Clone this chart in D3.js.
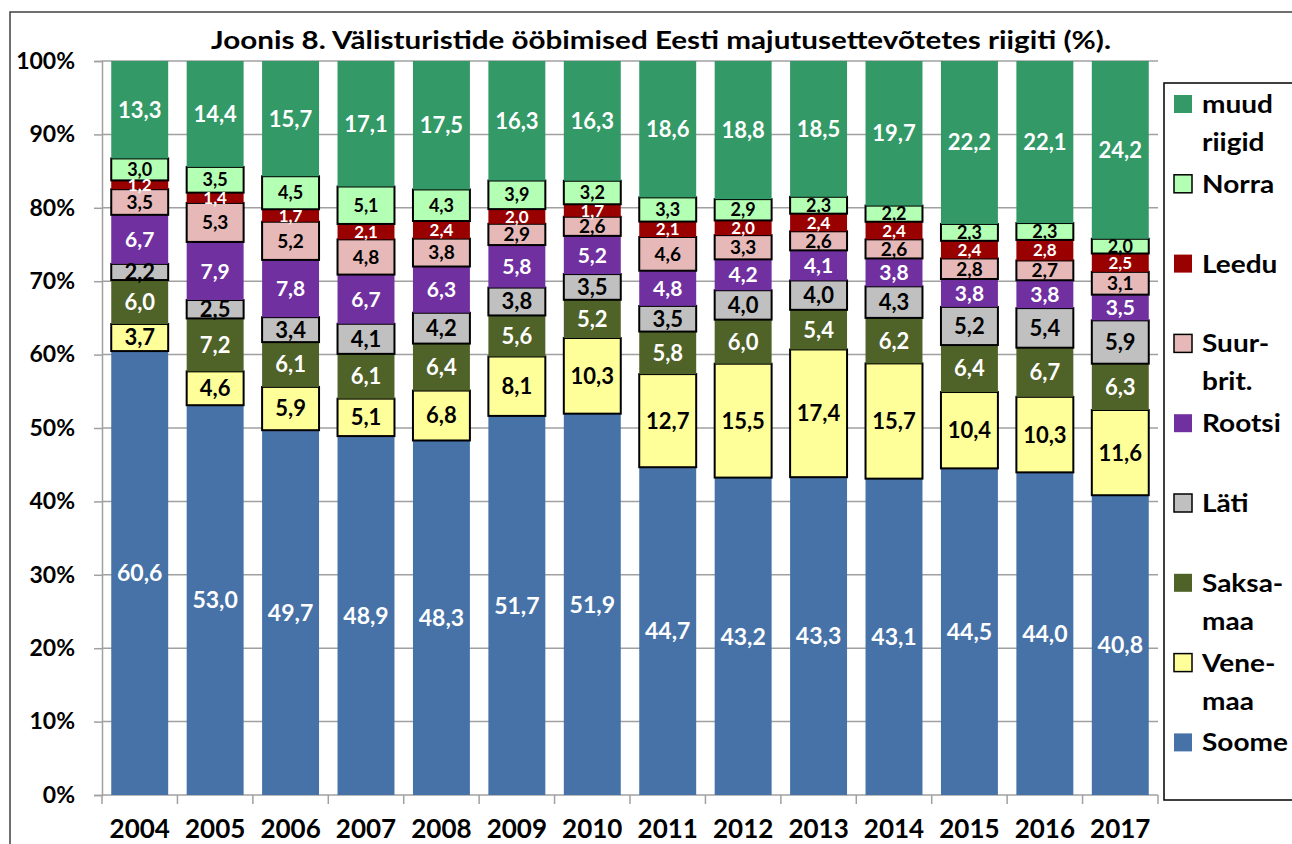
<!DOCTYPE html>
<html>
<head>
<meta charset="utf-8">
<script src="https://d3js.org/d3.v7.min.js"></script>
<style>
  * { margin: 0; padding: 0; }
  body { background: #fff; }
  text { font-family: Lato, "Open Sans", sans-serif; font-weight: bold; }
</style>
</head>
<body>
<div id="chart"></div>
<script>
// data, bottom series first
const years = ["2004","2005","2006","2007","2008","2009","2010","2011","2012","2013","2014","2015","2016","2017"];
const series = ["Soome","Venemaa","Saksamaa","Läti","Rootsi","Suurbrit","Leedu","Norra","muud"];
const soome    = [60.6,53.0,49.7,48.9,48.3,51.7,51.9,44.7,43.2,43.3,43.1,44.5,44.0,40.8];
const venemaa  = [3.7,4.6,5.9,5.1,6.8,8.1,10.3,12.7,15.5,17.4,15.7,10.4,10.3,11.6];
const saksamaa = [6.0,7.2,6.1,6.1,6.4,5.6,5.2,5.8,6.0,5.4,6.2,6.4,6.7,6.3];
const lati     = [2.2,2.5,3.4,4.1,4.2,3.8,3.5,3.5,4.0,4.0,4.3,5.2,5.4,5.9];
const rootsi   = [6.7,7.9,7.8,6.7,6.3,5.8,5.2,4.8,4.2,4.1,3.8,3.8,3.8,3.5];
const suurbrit = [3.5,5.3,5.2,4.8,3.8,2.9,2.6,4.6,3.3,2.6,2.6,2.8,2.7,3.1];
const leedu    = [1.2,1.4,1.7,2.1,2.4,2.0,1.7,2.1,2.0,2.4,2.4,2.4,2.8,2.5];
const norra    = [3.0,3.5,4.5,5.1,4.3,3.9,3.2,3.3,2.9,2.3,2.2,2.3,2.3,2.0];
const muud     = [13.3,14.4,15.7,17.1,17.5,16.3,16.3,18.6,18.8,18.5,19.7,22.2,22.1,24.2];
const yTicks = [0,0.1,0.2,0.3,0.4,0.5,0.6,0.7,0.8,0.9,1];

const values = {Soome: soome, Venemaa: venemaa, Saksamaa: saksamaa, "Läti": lati, Rootsi: rootsi,
                Suurbrit: suurbrit, Leedu: leedu, Norra: norra, muud: muud};

const style = {
  Soome:    {fill: "#4672A8", border: false, label: "#fff", size: 23, legend: ["Soome"]},
  Venemaa:  {fill: "#FFFF99", border: true,  label: "#000", size: 22, legend: ["Vene-","maa"]},
  Saksamaa: {fill: "#4F6228", border: false, label: "#fff", size: 22, legend: ["Saksa-","maa"]},
  "Läti":   {fill: "#C0C0C0", border: true,  label: "#000", size: 22, legend: ["Läti"]},
  Rootsi:   {fill: "#7030A0", border: false, label: "#fff", size: 21, legend: ["Rootsi"]},
  Suurbrit: {fill: "#E6B9B8", border: true,  label: "#000", size: 19, legend: ["Suur-","brit."]},
  Leedu:    {fill: "#990000", border: false, label: "#fff", size: 17, legend: ["Leedu"]},
  Norra:    {fill: "#B3FFB3", border: true,  label: "#000", size: 18, legend: ["Norra"]},
  muud:     {fill: "#339966", border: false, label: "#fff", size: 22, legend: ["muud","riigid"]}
};

const rows = years.map((y, i) => {
  const r = {year: y};
  series.forEach(s => r[s] = values[s][i]);
  return r;
});

const W = 1292, H = 844;
const margin = {top: 61, left: 102, right: 134, bottom: 49};

const svg = d3.select("#chart").append("svg")
  .attr("width", W).attr("height", H);

// outer chart border
svg.append("rect")
  .attr("x", 10).attr("y", 12).attr("width", 1400).attr("height", 1000)
  .attr("fill", "none").attr("stroke", "#404040").attr("stroke-width", 1.5);

svg.append("text")
  .attr("x", 661).attr("y", 49)
  .attr("text-anchor", "middle")
  .attr("textLength", 900).attr("lengthAdjust", "spacingAndGlyphs")
  .style("font-size", "25px")
  .text("Joonis 8. Välisturistide ööbimised Eesti majutusettevõtetes riigiti (%).");

const x = d3.scaleBand()
  .domain(years)
  .range([margin.left, W - margin.right])
  .paddingInner(0.245).paddingOuter(0.1225);

const y = d3.scaleLinear()
  .domain([0, 1])
  .range([H - margin.bottom, margin.top]);

// gridlines
svg.append("g")
  .selectAll("line")
  .data(yTicks.slice(1))
  .join("line")
  .attr("x1", margin.left).attr("x2", W - margin.right)
  .attr("y1", d => y(d)).attr("y2", d => y(d))
  .attr("stroke", "#A0A0A0").attr("stroke-width", 1.5);

// y axis
const gy = svg.append("g")
  .attr("transform", `translate(${margin.left},0)`)
  .call(d3.axisLeft(y).tickValues(yTicks).tickFormat(d3.format(".0%")).tickSize(8).tickPadding(19));
gy.selectAll("path, line").attr("stroke", "#A0A0A0").attr("stroke-width", 1.5);
gy.selectAll("text").style("font-size", "23px").attr("fill", "#000")
  .style("font-family", "Lato, sans-serif");

// x axis with ticks between categories
const x0 = y(0);
const gx = svg.append("g");
gx.append("line")
  .attr("x1", margin.left).attr("x2", W - margin.right)
  .attr("y1", x0).attr("y2", x0)
  .attr("stroke", "#A0A0A0").attr("stroke-width", 1.5);
const bounds = d3.range(years.length + 1).map(i => margin.left + i * x.step());
gx.selectAll("line.tk")
  .data(bounds)
  .join("line").attr("class", "tk")
  .attr("x1", d => d).attr("x2", d => d)
  .attr("y1", x0).attr("y2", x0 + 9)
  .attr("stroke", "#A0A0A0").attr("stroke-width", 1.5);
gx.selectAll("text")
  .data(years)
  .join("text")
  .attr("x", d => x(d) + x.bandwidth() / 2)
  .attr("y", 838)
  .attr("text-anchor", "middle")
  .style("font-size", "26px")
  .text(d => d);

// stacked bars
const stacked = d3.stack().keys(series).offset(d3.stackOffsetExpand)(rows);

const layers = svg.append("g")
  .selectAll("g")
  .data(stacked)
  .join("g");

layers.selectAll("rect")
  .data(d => d.map(p => ({key: d.key, p})))
  .join("rect")
  .attr("x", d => x(d.p.data.year))
  .attr("width", x.bandwidth())
  .attr("y", d => y(d.p[1]))
  .attr("height", d => y(d.p[0]) - y(d.p[1]))
  .attr("fill", d => style[d.key].fill)
  .attr("stroke", d => style[d.key].border ? "#000" : "none")
  .attr("stroke-width", 2);

const fmt = v => v.toFixed(1).replace(".", ",");

svg.append("g")
  .selectAll("g")
  .data(stacked)
  .join("g")
  .selectAll("text")
  .data(d => d.map(p => ({key: d.key, p})))
  .join("text")
  .attr("x", d => x(d.p.data.year) + x.bandwidth() / 2)
  .attr("y", d => (y(d.p[0]) + y(d.p[1])) / 2)
  .attr("dy", "0.36em")
  .attr("text-anchor", "middle")
  .attr("fill", d => style[d.key].label)
  .style("font-size", d => style[d.key].size + "px")
  .text(d => fmt(d.p.data[d.key]));

// legend
svg.append("rect")
  .attr("x", 1164).attr("y", 83).attr("width", 200).attr("height", 717)
  .attr("fill", "#fff").attr("stroke", "#000").attr("stroke-width", 1.5);

const legendOrder = series.slice().reverse();
const lg = svg.append("g")
  .selectAll("g")
  .data(legendOrder)
  .join("g")
  .attr("transform", (d, i) => `translate(1174,${104 + i * 79.8})`);

lg.append("rect")
  .attr("x", 0).attr("y", -9).attr("width", 18).attr("height", 18)
  .attr("fill", d => style[d].fill)
  .attr("stroke", d => style[d].border ? "#000" : "none")
  .attr("stroke-width", 1.5);

lg.each(function (d) {
  const g = d3.select(this);
  style[d].legend.forEach((t, j) => {
    g.append("text")
      .attr("transform", `translate(28,${j * 38}) scale(1.12,1)`)
      .attr("dy", "0.36em")
      .style("font-size", "25px")
      .text(t);
  });
});
</script>
</body>
</html>
